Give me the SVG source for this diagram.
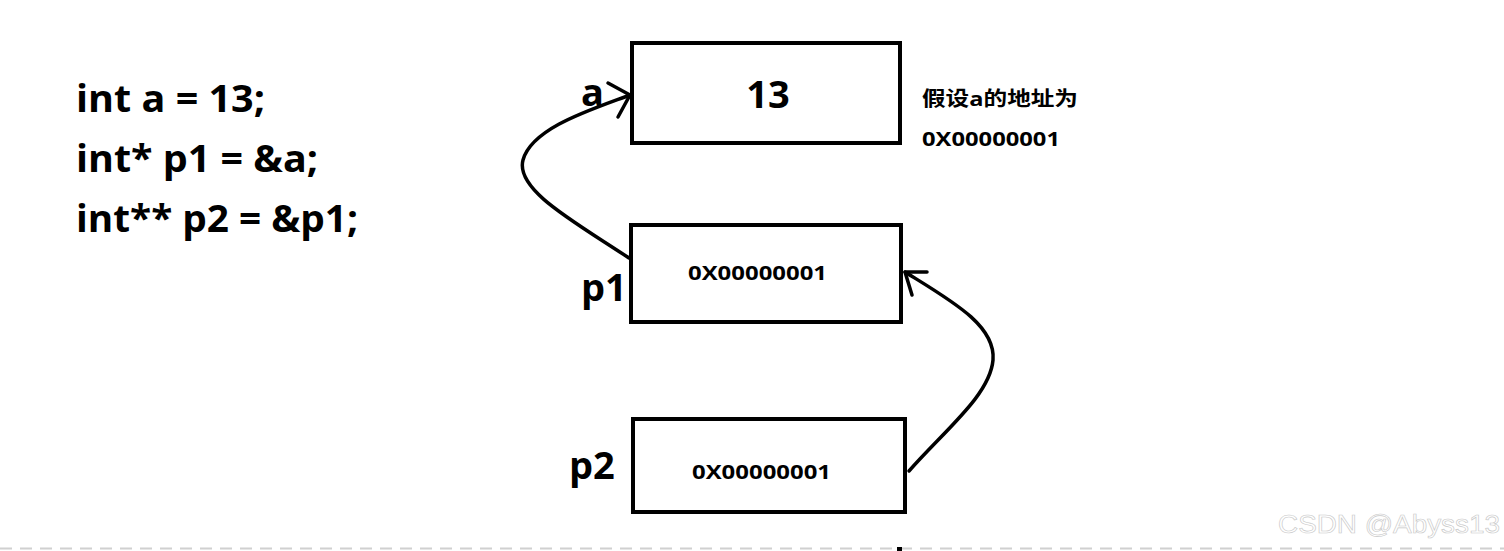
<svg xmlns="http://www.w3.org/2000/svg" width="1504" height="551" viewBox="0 0 1504 551">
<style>
.box{fill:#fff;stroke:#000;stroke-width:4}
.code{font-family:"Open Sans","Noto Sans",sans-serif;font-weight:bold;font-size:38px;fill:#000}
.lbl{font-family:"Open Sans","Noto Sans",sans-serif;font-weight:bold;font-size:38px;fill:#000}
.addr{font-family:"Open Sans","Noto Sans","Noto Sans CJK SC",sans-serif;font-weight:bold;font-size:20px;fill:#000}
.conn{fill:none;stroke:#000;stroke-width:3.5;stroke-linecap:round;stroke-linejoin:round}
</style>
<rect width="1504" height="551" fill="#fff"/>
<g id="code">
<text class="code" x="76" y="112" textLength="189" lengthAdjust="spacingAndGlyphs">int a = 13;</text>
<text class="code" x="76" y="172" textLength="242" lengthAdjust="spacingAndGlyphs">int* p1 = &amp;a;</text>
<text class="code" x="76" y="232" textLength="282" lengthAdjust="spacingAndGlyphs">int** p2 = &amp;p1;</text>
</g>
<g id="node-a">
<rect class="box" x="632" y="43" width="268" height="100"/>
<text class="lbl" x="768" y="108" text-anchor="middle">13</text>
<text class="lbl" x="581" y="106">a</text>
</g>
<g id="note">
<text class="addr" x="922" y="106" textLength="156" lengthAdjust="spacingAndGlyphs">假设a的地址为</text>
<text class="addr" x="922" y="146" textLength="138" lengthAdjust="spacingAndGlyphs">0X00000001</text>
</g>
<g id="node-p1">
<rect class="box" x="631" y="225" width="270" height="97"/>
<text class="addr" x="688" y="280" textLength="139" lengthAdjust="spacingAndGlyphs">0X00000001</text>
<text class="lbl" x="581" y="301">p1</text>
</g>
<g id="node-p2">
<rect class="box" x="633" y="419" width="272" height="93"/>
<text class="addr" x="692" y="479" textLength="139" lengthAdjust="spacingAndGlyphs">0X00000001</text>
<text class="lbl" x="569" y="479">p2</text>
</g>
<g id="connectors">
<path class="conn" d="M629,258 C575,222 515,190 523,160 C532,128 590,110 630,95"/>
<path class="conn" d="M608,83 L630,95 L618,117"/>
<path class="conn" d="M909,471 C945,430 990,395 993,360 C996,325 950,300 905,272"/>
<path class="conn" d="M927,272 L905,272 L912,295"/>
</g>
<g id="watermark">
<text x="1500" y="533" text-anchor="end" textLength="222" lengthAdjust="spacingAndGlyphs" font-family="Liberation Sans,Arial,sans-serif" font-size="25" fill="#fff" stroke="#c8c8c8" stroke-width="0.6">CSDN @Abyss13</text>
</g>
<line x1="0" y1="548.5" x2="1504" y2="548.5" stroke="#d0d0d0" stroke-width="2" stroke-dasharray="12,8"/>
<rect x="897" y="547" width="5" height="4" fill="#000"/>
</svg>
